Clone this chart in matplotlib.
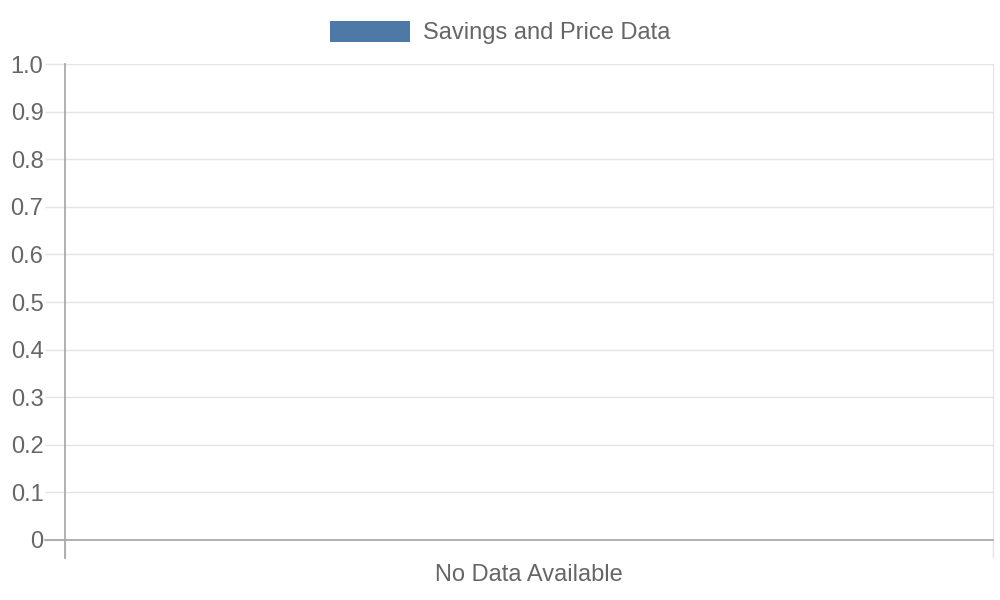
import matplotlib
matplotlib.use("Agg")
import matplotlib.pyplot as plt
from matplotlib.ticker import FuncFormatter, FixedLocator

categories = ["No Data Available"]
values = [0]
series_name = "Savings and Price Data"
y_ticks = [0, 0.1, 0.2, 0.3, 0.4, 0.5, 0.6, 0.7, 0.8, 0.9, 1.0]

plt.rcParams['font.family'] = ['Liberation Sans', 'DejaVu Sans']
text_col = "#666666"
grid_col = "#e4e4e4"
axis_col = "#aaaaaa"

fig = plt.figure(figsize=(10, 6), dpi=100)
ax = fig.add_axes([0.065, 0.1, 0.928, 0.7933])

ax.bar(range(len(categories)), values, width=0.8, color="#4e79a7", label=series_name)
ax.set_xlim(-0.5, len(categories) - 0.5)
ax.set_ylim(0, 1)

ax.set_yticks(y_ticks)
ax.yaxis.set_major_formatter(FuncFormatter(lambda v, p: "0" if v == 0 else f"{v:.1f}"))
ax.tick_params(axis="y", length=14.5, width=1, color=grid_col, labelsize=17,
               labelcolor=text_col, pad=1)
ax.grid(axis="y", color=grid_col, linewidth=1)
ax.set_axisbelow(True)

ax.set_xticks(range(len(categories)))
ax.set_xticklabels(categories)
ax.tick_params(axis="x", which="major", length=0, labelsize=17, labelcolor=text_col, pad=17)
ax.xaxis.set_minor_locator(FixedLocator([-0.5, len(categories) - 0.5]))
ax.tick_params(axis="x", which="minor", length=13, width=1, color=grid_col)

for s in ["left", "bottom"]:
    ax.spines[s].set_color(axis_col)
    ax.spines[s].set_linewidth(1.3)
ax.spines["left"].set_bounds(-0.038, 1)
ax.spines["right"].set_color(grid_col)
ax.spines["top"].set_visible(False)

# zero line runs over the tick area on the left
ax.axhline(0, xmin=-20 / 928, xmax=0, color=axis_col, linewidth=1.3, clip_on=False)

leg = fig.legend(loc="center", bbox_to_anchor=(0.5, 0.946), frameon=False,
                 fontsize=17, handlelength=3.4, handleheight=1.0, handletextpad=0.55,
                 labelcolor=text_col)

fig.savefig("out.png", dpi=100)
